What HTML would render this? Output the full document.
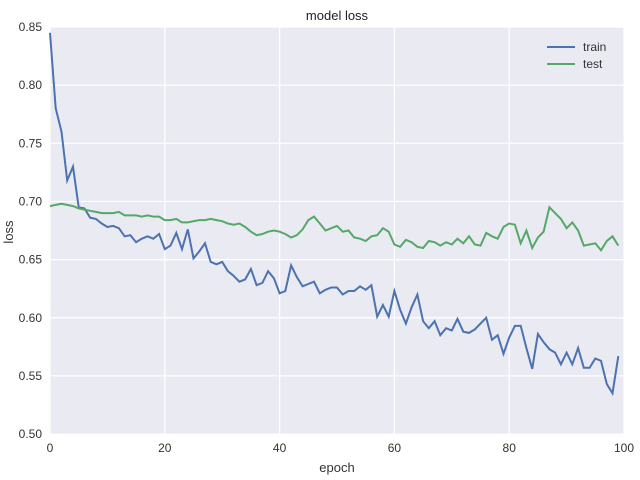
<!DOCTYPE html>
<html><head><style>
body{margin:0;background:#fff;}
svg{display:block;font-family:"Liberation Sans",sans-serif;}
</style></head><body>
<svg id="c" width="640" height="480" viewBox="0 0 640 480">
<rect x="50" y="27" width="574" height="407" fill="#eaeaf2"/>
<g id="grid" stroke="#fff" stroke-width="1.2"></g>
<g id="lab" font-size="12" fill="#333"></g>
<text x="337" y="20" font-size="13" fill="#222" text-anchor="middle">model loss</text>
<text x="337" y="472" font-size="13" fill="#333" text-anchor="middle">epoch</text>
<text transform="translate(13,232) rotate(-90)" font-size="13" fill="#333" text-anchor="middle">loss</text>
<path id="tr" fill="none" stroke="#4c72b0" stroke-width="2"/>
<path id="te" fill="none" stroke="#55a868" stroke-width="2"/>
<line x1="547" y1="47" x2="575" y2="47" stroke="#4c72b0" stroke-width="2"/>
<text x="583" y="51" font-size="12" fill="#333">train</text>
<line x1="547" y1="64" x2="575" y2="64" stroke="#55a868" stroke-width="2"/>
<text x="583" y="68" font-size="12" fill="#333">test</text>
</svg>
<script>
var X=function(i){return 50+i*5.74},Y=function(v){return 27+(0.85-v)*1163};
var g=document.getElementById('grid'),l=document.getElementById('lab'),ns='http://www.w3.org/2000/svg';
function el(p,t,a,txt){var e=document.createElementNS(ns,t);for(var k in a)e.setAttribute(k,a[k]);if(txt)e.textContent=txt;p.appendChild(e);}
for(var i=0;i<=100;i+=20){el(g,'line',{x1:X(i),x2:X(i),y1:27,y2:434});el(l,'text',{x:X(i),y:452,'text-anchor':'middle'},String(i));}
for(var v=0.5;v<=0.851;v+=0.05){el(g,'line',{x1:50,x2:624,y1:Y(v),y2:Y(v)});el(l,'text',{x:42,y:Y(v)+4,'text-anchor':'end'},v.toFixed(2));}
var tr=[0.845,0.78,0.76,0.718,0.73,0.695,0.694,0.686,0.685,0.681,0.678,0.679,0.677,0.670,0.671,0.665,0.668,0.670,0.668,0.672,0.659,0.662,0.673,0.659,0.676,0.651,0.657,0.664,0.648,0.646,0.648,0.640,0.636,0.631,0.633,0.642,0.628,0.630,0.640,0.634,0.621,0.623,0.645,0.635,0.627,0.629,0.631,0.621,0.624,0.626,0.626,0.620,0.623,0.623,0.627,0.624,0.628,0.601,0.611,0.601,0.623,0.607,0.595,0.609,0.620,0.597,0.591,0.597,0.585,0.591,0.589,0.599,0.588,0.587,0.590,0.595,0.600,0.581,0.585,0.569,0.583,0.593,0.593,0.574,0.556,0.586,0.579,0.573,0.570,0.560,0.570,0.560,0.574,0.557,0.557,0.565,0.563,0.543,0.535,0.567];
var te=[0.696,0.697,0.698,0.697,0.696,0.694,0.693,0.692,0.691,0.690,0.690,0.690,0.691,0.688,0.688,0.688,0.687,0.688,0.687,0.687,0.684,0.684,0.685,0.682,0.682,0.683,0.684,0.684,0.685,0.684,0.683,0.681,0.680,0.681,0.678,0.674,0.671,0.672,0.674,0.675,0.674,0.672,0.669,0.671,0.676,0.684,0.687,0.681,0.675,0.677,0.679,0.674,0.675,0.669,0.668,0.666,0.670,0.671,0.677,0.674,0.663,0.661,0.667,0.665,0.661,0.660,0.666,0.665,0.662,0.665,0.663,0.668,0.664,0.670,0.663,0.662,0.673,0.670,0.668,0.678,0.681,0.680,0.664,0.675,0.660,0.669,0.674,0.695,0.690,0.685,0.677,0.682,0.675,0.662,0.663,0.664,0.658,0.666,0.670,0.662];
function p(a){return a.map(function(v,i){return(i?'L':'M')+X(i).toFixed(1)+' '+Y(v).toFixed(1)}).join('');}
document.getElementById('tr').setAttribute('d',p(tr));document.getElementById('te').setAttribute('d',p(te));
</script>
</body></html>
